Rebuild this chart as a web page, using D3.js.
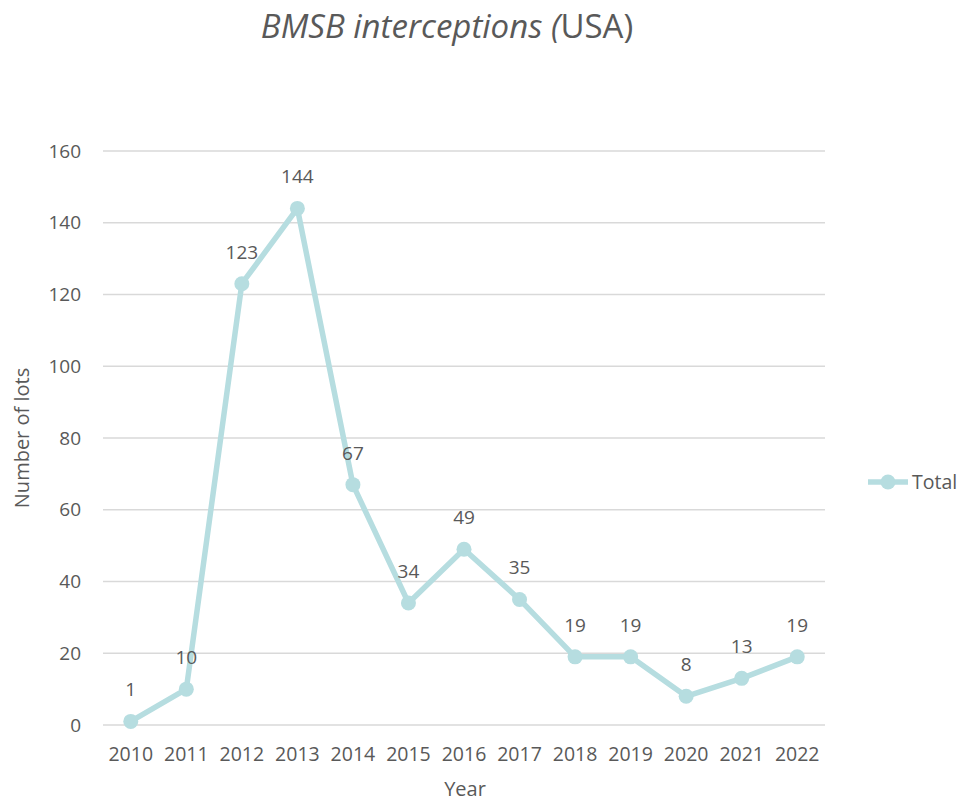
<!DOCTYPE html>
<html>
<head>
<meta charset="utf-8">
<script src="https://cdn.jsdelivr.net/npm/d3@7"></script>
<style>
  body { margin: 0; background: #fff; }
  text { font-family: "Open Sans", sans-serif; fill: #595959; }
</style>
</head>
<body>
<svg id="chart" width="975" height="805"></svg>
<script>
// chart data
const years = ["2010", "2011", "2012", "2013", "2014", "2015", "2016", "2017", "2018", "2019", "2020", "2021", "2022"];
const totals = [1, 10, 123, 144, 67, 34, 49, 35, 19, 19, 8, 13, 19];
const yTicks = [0, 20, 40, 60, 80, 100, 120, 140, 160];

const lineColor = "#b6dde0";
const gridColor = "#d9d9d9";

const svg = d3.select("#chart");

const plot = { left: 103, right: 825, top: 151, bottom: 725 };

let x = d3.scaleBand()
    .domain(years)
    .range([plot.left, plot.right]);

let y = d3.scaleLinear()
    .domain([0, 160])
    .range([plot.bottom, plot.top]);

// gridlines
svg.append("g")
    .selectAll("line")
    .data(yTicks)
    .enter().append("line")
    .attr("x1", plot.left)
    .attr("x2", plot.right)
    .attr("y1", d => y(d))
    .attr("y2", d => y(d))
    .attr("stroke", gridColor)
    .attr("stroke-width", 1.5);

// y tick labels
svg.append("g")
    .selectAll("text")
    .data(yTicks)
    .enter().append("text")
    .attr("x", 81)
    .attr("y", d => y(d))
    .attr("dy", "0.35em")
    .attr("text-anchor", "end")
    .style("font-size", "19px")
    .text(d => d);

// x tick labels
svg.append("g")
    .selectAll("text")
    .data(years)
    .enter().append("text")
    .attr("x", d => x(d) + x.bandwidth() / 2)
    .attr("y", 761)
    .attr("text-anchor", "middle")
    .style("font-size", "19.5px")
    .text(d => d);

// axis titles
svg.append("text")
    .attr("x", 465)
    .attr("y", 796)
    .attr("text-anchor", "middle")
    .style("font-size", "20px")
    .text("Year");

svg.append("text")
    .attr("transform", "translate(29, 438) rotate(-90)")
    .attr("text-anchor", "middle")
    .style("font-size", "20px")
    .text("Number of lots");

// title
let title = svg.append("text")
    .attr("x", 447)
    .attr("y", 38)
    .attr("text-anchor", "middle")
    .style("font-size", "33px");
title.append("tspan").style("font-style", "italic").text("BMSB interceptions (");
title.append("tspan").text("USA)");

// series line
let pts = years.map((yr, i) => ({ year: yr, value: totals[i] }));
let cx = d => x(d.year) + x.bandwidth() / 2;

svg.append("path")
    .datum(pts)
    .attr("fill", "none")
    .attr("stroke", lineColor)
    .attr("stroke-width", 5.5)
    .attr("stroke-linejoin", "round")
    .attr("d", d3.line().x(cx).y(d => y(d.value)));

svg.append("g")
    .selectAll("circle")
    .data(pts)
    .enter().append("circle")
    .attr("cx", cx)
    .attr("cy", d => y(d.value))
    .attr("r", 7.5)
    .attr("fill", lineColor);

// data labels
svg.append("g")
    .selectAll("text")
    .data(pts)
    .enter().append("text")
    .attr("x", cx)
    .attr("y", d => y(d.value) - 25)
    .attr("text-anchor", "middle")
    .style("font-size", "19px")
    .text(d => d.value);

// legend
let lg = svg.append("g").attr("transform", "translate(868, 482)");
lg.append("line")
    .attr("x1", 0).attr("x2", 40)
    .attr("stroke", lineColor)
    .attr("stroke-width", 5.5);
lg.append("circle")
    .attr("cx", 20).attr("r", 7.5)
    .attr("fill", lineColor);
lg.append("text")
    .attr("x", 44)
    .attr("dy", "0.35em")
    .style("font-size", "19.5px")
    .text("Total");
</script>
</body>
</html>
